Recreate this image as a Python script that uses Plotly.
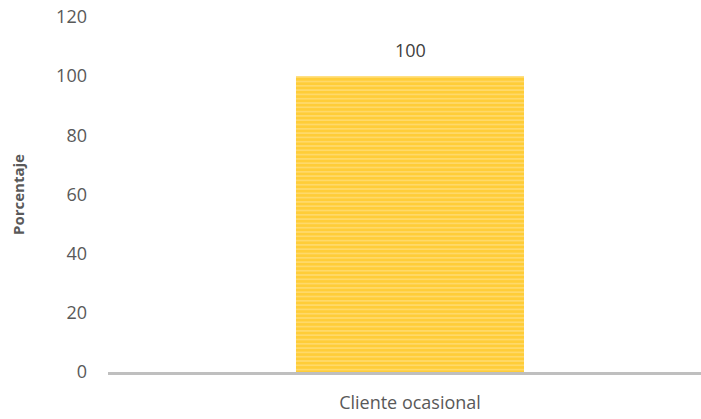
import plotly.graph_objects as go

categories = ["Cliente ocasional"]
values = [100]
y_ticks = [0, 20, 40, 60, 80, 100, 120]

FONT = "Open Sans, Liberation Sans, sans-serif"

fig = go.Figure(
    go.Bar(
        x=categories,
        y=values,
        width=0.3775,
        marker=dict(
            color="#FFC000",
            line=dict(width=0),
            pattern=dict(shape="-", fgcolor="#FFBF00", bgcolor="#FFDB70", size=4.3, solidity=0.65),
        ),
    )
)

# value labels above each bar
for c, v in zip(categories, values):
    fig.add_annotation(
        x=c, y=v, text=str(v), showarrow=False,
        yanchor="bottom", yshift=12,
        font=dict(family=FONT, size=18, color="#404040"),
    )

fig.update_layout(
    width=701,
    height=419,
    margin=dict(l=108, r=0, t=17, b=47),
    paper_bgcolor="white",
    plot_bgcolor="white",
    showlegend=False,
    font=dict(family=FONT, size=18, color="#595959"),
    xaxis=dict(
        type="category",
        range=[-0.5, 0.4818],
        showline=True,
        linecolor="#BFBFBF",
        linewidth=3,
        showgrid=False,
        ticks="",
        ticklabelstandoff=12,
        tickfont=dict(size=18, color="#595959"),
    ),
    yaxis=dict(
        range=[0, 120],
        tickvals=y_ticks,
        showgrid=False,
        zeroline=False,
        showline=False,
        ticks="",
        ticklabelstandoff=20,
        tickfont=dict(size=18, color="#595959"),
        title=dict(
            text="<b>Porcentaje</b>",
            font=dict(size=15, color="#595959"),
            standoff=27,
        ),
    ),
)

fig.write_html("out.html")
